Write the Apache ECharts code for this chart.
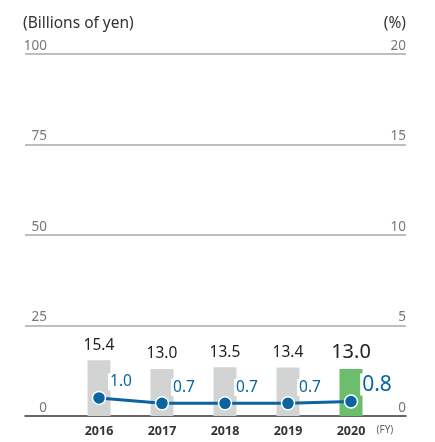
<!DOCTYPE html>
<html>
<head>
<meta charset="utf-8">
<script src="https://cdn.jsdelivr.net/npm/echarts@6/dist/echarts.min.js"></script>
<style>
  html, body { margin: 0; padding: 0; background: #fff; }
  #chart { width: 435px; height: 442px; }
</style>
</head>
<body>
<div id="chart"></div>
<script>
// Fiscal years and values
const years = ['2016', '2017', '2018', '2019', '2020'];
const amounts = [15.4, 13.0, 13.5, 13.4, 13.0];   // billions of yen (bars)
const ratios = [1.0, 0.7, 0.7, 0.7, 0.8];         // % (line)
const leftTicks = { min: 0, max: 100, interval: 25 };
const rightTicks = { min: 0, max: 20, interval: 5 };

const FONT = '"Noto Sans", "Open Sans", sans-serif';
const BLUE = '#0a64a0';
const GRAY_BAR = '#d2d3d3';
const GREEN_BAR = '#6cbd6c';
const last = years.length - 1;

const chart = echarts.init(document.getElementById('chart'), null, { renderer: 'canvas' });

chart.setOption({
  animation: false,
  textStyle: { fontFamily: FONT },
  grid: [
    { left: 25, right: 29, top: 54, bottom: 26 },     // gridlines + scale labels
    { left: 67.5, right: 52.5, top: 54, bottom: 26 }  // bars + line
  ],
  xAxis: [
    {
      gridIndex: 0, type: 'value', min: 0, max: 1,
      axisLine: { show: true, onZero: false, lineStyle: { color: '#4a4a4a', width: 1.5 } },
      axisTick: { show: false }, axisLabel: { show: false }, splitLine: { show: false }
    },
    {
      gridIndex: 1, type: 'category', data: years,
      axisLine: { show: false }, axisTick: { show: false },
      axisLabel: { margin: 9, color: '#333', fontSize: 12.5, fontWeight: 'bold', fontFamily: FONT },
      name: '(FY)', nameLocation: 'end', nameGap: -6,
      nameTextStyle: { color: '#666', fontSize: 10, align: 'left', verticalAlign: 'top', padding: [9, 0, 0, 0], fontFamily: FONT }
    }
  ],
  yAxis: [
    {
      gridIndex: 0, type: 'value', position: 'left',
      min: leftTicks.min, max: leftTicks.max, interval: leftTicks.interval,
      name: '(Billions of yen)', nameLocation: 'end', nameGap: 30,
      nameTextStyle: { color: '#333', fontSize: 15.5, align: 'left', verticalAlign: 'middle', padding: [0, 0, 0, -2], fontFamily: FONT },
      axisLine: { show: false }, axisTick: { show: false },
      axisLabel: { inside: true, margin: 22, align: 'right', verticalAlign: 'bottom', padding: [0, 0, 1, 0], color: '#777', fontSize: 13.5, fontFamily: FONT },
      splitLine: { show: true, lineStyle: { color: '#a8a8a8', width: 1.5 } }
    },
    {
      gridIndex: 0, type: 'value', position: 'right',
      min: rightTicks.min, max: rightTicks.max, interval: rightTicks.interval,
      name: '(%)', nameLocation: 'end', nameGap: 30,
      nameTextStyle: { color: '#333', fontSize: 15.5, align: 'right', verticalAlign: 'middle', fontFamily: FONT },
      axisLine: { show: false }, axisTick: { show: false },
      axisLabel: { inside: true, margin: 0, align: 'right', verticalAlign: 'bottom', padding: [0, 0, 1, 0], color: '#777', fontSize: 13.5, fontFamily: FONT },
      splitLine: { show: false }
    },
    {
      gridIndex: 1, type: 'value', min: leftTicks.min, max: leftTicks.max, show: false
    },
    {
      gridIndex: 1, type: 'value', min: rightTicks.min, max: rightTicks.max, show: false
    }
  ],
  series: [
    {
      type: 'bar', xAxisIndex: 1, yAxisIndex: 2, barWidth: 23, z: 2,
      data: amounts.map((v, i) => ({
        value: v,
        itemStyle: { color: i === last ? GREEN_BAR : GRAY_BAR },
        label: i === last ? { fontSize: 20 } : undefined
      })),
      label: {
        show: true, position: 'top', distance: 7,
        color: '#222', fontSize: 15.5, fontFamily: FONT,
        formatter: p => p.value.toFixed(1)
      }
    },
    {
      type: 'line', xAxisIndex: 1, yAxisIndex: 3, z: 5,
      data: ratios.map((v, i) => ({
        value: v,
        label: i === last ? { fontSize: 21, offset: [26, -17] } : undefined
      })),
      symbol: 'circle', symbolSize: 13,
      lineStyle: { color: BLUE, width: 3 },
      itemStyle: { color: BLUE, borderColor: '#fff', borderWidth: 1.5 },
      label: {
        show: true, position: 'inside', offset: [22, -16],
        color: BLUE, fontSize: 15.5, fontFamily: FONT,
        backgroundColor: '#fff', padding: [1, 2, 0, 2],
        formatter: p => p.value.toFixed(1)
      }
    }
  ]
});
</script>
</body>
</html>
